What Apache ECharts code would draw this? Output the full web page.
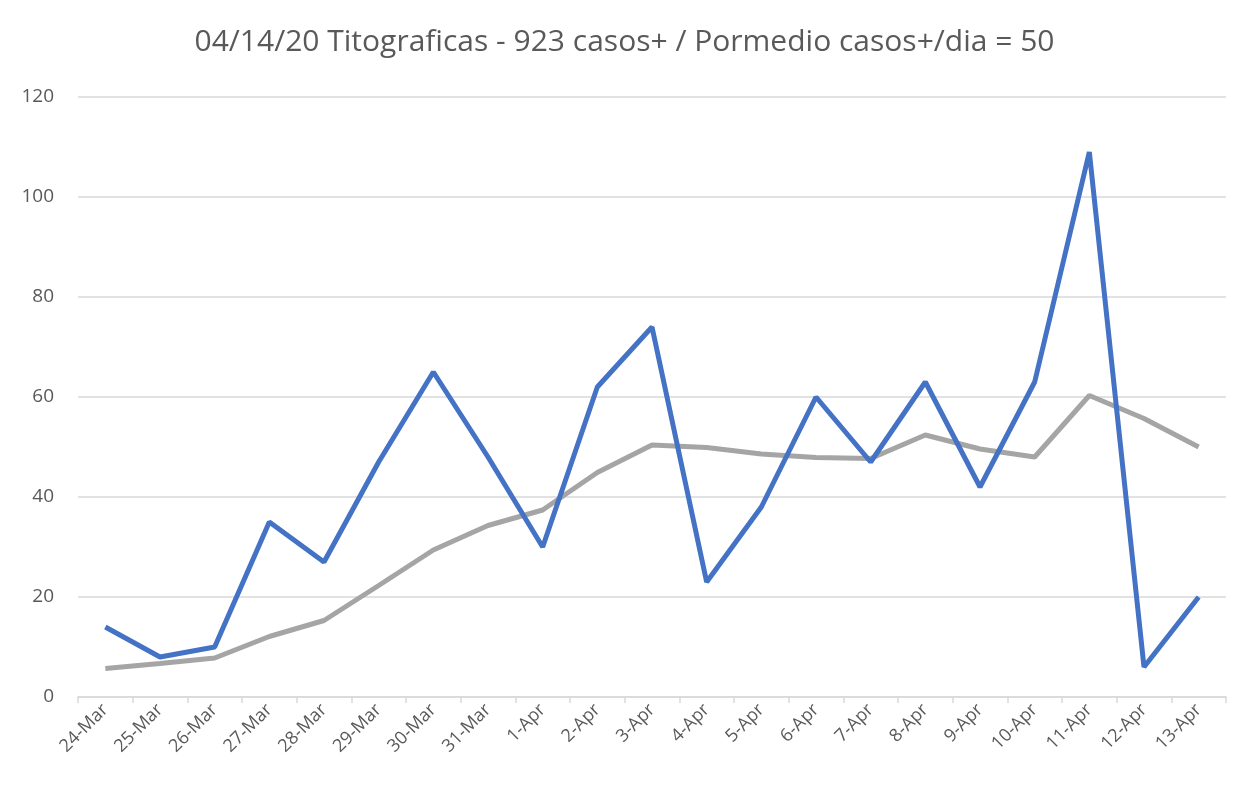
<!DOCTYPE html>
<html>
<head>
<meta charset="utf-8">
<script src="https://cdn.jsdelivr.net/npm/echarts@6/dist/echarts.min.js"></script>
<style>
	html, body { margin: 0; padding: 0; background: #fff; }
	#myChart { width: 1249px; height: 793px; }
</style>
</head>
<body>
<div id="myChart"></div>
<script>
// datos
var categories = ['24-Mar','25-Mar','26-Mar','27-Mar','28-Mar','29-Mar','30-Mar','31-Mar',
	'1-Apr','2-Apr','3-Apr','4-Apr','5-Apr','6-Apr','7-Apr','8-Apr','9-Apr','10-Apr','11-Apr','12-Apr','13-Apr'];
var casosDia = [14, 8, 10, 35, 27, 47, 65, 48, 30, 62, 74, 23, 38, 60, 47, 63, 42, 63, 109, 6, 20];
var promedio = [5.7, 6.7, 7.8, 12.1, 15.3, 22.3, 29.4, 34.3, 37.4, 44.9, 50.4, 49.9, 48.6, 47.9, 47.7, 52.4, 49.6, 48.0, 60.3, 55.7, 50.0];
var yTicks = [0, 20, 40, 60, 80, 100, 120];

var textColor = '#595959';
var gridColor = '#d9d9d9';
var font = 'Open Sans';

var myChart = echarts.init(document.getElementById('myChart'));
myChart.setOption({
	animation: false,
	title: {
		text: '04/14/20 Titograficas - 923 casos+ / Pormedio casos+/dia = 50',
		left: 'center',
		top: 22,
		textStyle: {
			color: textColor,
			fontFamily: font,
			fontWeight: 'normal',
			fontSize: 30
		}
	},
	grid: {
		left: 78,
		right: 23,
		top: 97,
		bottom: 96
	},
	xAxis: {
		type: 'category',
		data: categories,
		boundaryGap: true,
		axisLine: { lineStyle: { color: gridColor, width: 1.5 } },
		axisTick: { show: true, length: 6, lineStyle: { color: gridColor, width: 1.5 } },
		axisLabel: {
			rotate: 45,
			color: textColor,
			fontFamily: font,
			fontSize: 18,
			margin: 10,
			interval: 0
		}
	},
	yAxis: {
		type: 'value',
		min: yTicks[0],
		max: yTicks[yTicks.length - 1],
		interval: 20,
		axisLine: { show: false },
		axisTick: { show: false },
		splitLine: { lineStyle: { color: gridColor, width: 1.5 } },
		axisLabel: {
			color: textColor,
			fontFamily: font,
			fontSize: 19,
			margin: 24
		}
	},
	series: [
		{
			name: 'casos+',
			type: 'line',
			data: casosDia,
			showSymbol: false,
			symbol: 'none',
			lineStyle: { color: '#4472C4', width: 5 },
			z: 3
		},
		{
			name: 'promedio',
			type: 'line',
			data: promedio,
			showSymbol: false,
			symbol: 'none',
			lineStyle: { color: '#A5A5A5', width: 5 },
			z: 2
		}
	]
});
</script>
</body>
</html>
